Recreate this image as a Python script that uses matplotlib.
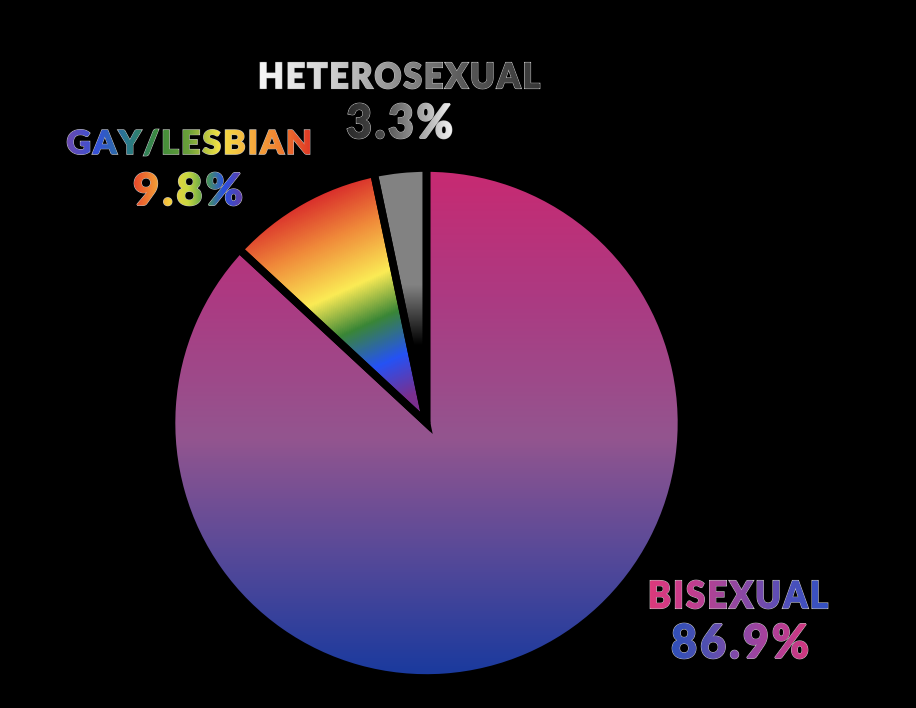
import numpy as np
import matplotlib
matplotlib.use("Agg")
import matplotlib.pyplot as plt
import matplotlib.transforms as mtransforms
from matplotlib.colors import LinearSegmentedColormap
from matplotlib.textpath import TextPath, text_to_path
from matplotlib.patches import PathPatch
from matplotlib.path import Path
from matplotlib.font_manager import FontProperties

# Data
groups = ["HETEROSEXUAL", "GAY/LESBIAN", "BISEXUAL"]
shares = [3.3, 9.8, 86.9]
share_labels = ["3.3%", "9.8%", "86.9%"]

W, H = 916, 708

fig = plt.figure(figsize=(W / 100, H / 100), dpi=100, facecolor="black")
ax = fig.add_axes([0, 0, 1, 1])
ax.set_facecolor("black")

# Pie (wedges only used for their shapes and black borders)
cx, cy = 426.5, H - 423
wedges, _ = ax.pie(shares, center=(cx, cy), radius=255, startangle=90,
                   counterclock=True,
                   wedgeprops=dict(facecolor="none", edgecolor="black",
                                   linewidth=5.5))

# pixel grid, y measured from top like the picture
xs = np.arange(W) + 0.5
ys = np.arange(H) + 0.5
X, Y = np.meshgrid(xs, ys)


def fill_wedge(wedge, values, cmap):
    im = ax.imshow(values, cmap=cmap, vmin=0, vmax=1, origin="upper",
                   extent=(0, W, 0, H), aspect="auto", zorder=1,
                   interpolation="bilinear")
    im.set_clip_path(wedge)
    wedge.set_zorder(2)


# Heterosexual: grey fading to black
grey_cmap = LinearSegmentedColormap.from_list("grey", ["#000000", "#828282"])
grey_val = np.clip((345 - Y) / 60, 0, 1)
fill_wedge(wedges[0], grey_val, grey_cmap)

# Gay/Lesbian: rainbow stripes at a slant
rainbow_cmap = LinearSegmentedColormap.from_list("rainbow", [
    (0.00, "#d7262a"), (0.22, "#f08a3a"), (0.45, "#fbeb55"),
    (0.63, "#3a8636"), (0.82, "#2552f5"), (1.00, "#7a2f8e")])
proj = 0.412 * X + 0.911 * Y
rainbow_val = np.clip((proj - 305) / (530 - 305), 0, 1)
fill_wedge(wedges[1], rainbow_val, rainbow_cmap)

# Bisexual: pink -> mauve -> blue from top to bottom
bi_cmap = LinearSegmentedColormap.from_list("bi", [
    (0.00, "#c72a72"), (0.25, "#ac3a82"), (0.53, "#93558f"),
    (0.75, "#5a4a98"), (1.00, "#1a3a9e")])
bi_val = np.clip((Y - 172) / (674 - 172), 0, 1)
fill_wedge(wedges[2], bi_val, bi_cmap)

# Gradient labels
font = FontProperties(family=["Lato", "DejaVu Sans"], weight="black")
# small shifts to fatten the letters a little
shifts = [(0, 0), (0.5, 0), (-0.5, 0), (0, 0.5), (0, -0.5)]


def spaced_path(s, track=7):
    # text path with a bit of extra letter spacing
    parts = []
    for i, ch in enumerate(s):
        adv = 0
        if i > 0:
            adv = text_to_path.get_text_width_height_descent(
                s[:i], font, ismath=False)[0]
            adv = adv * 100 / font.get_size_in_points()
        parts.append(TextPath((adv + i * track, 0), ch, size=100, prop=font))
    return Path.make_compound_path(*parts)


def grad_text(s, box, colors):
    x0, y0, x1, y1 = box
    tp = spaced_path(s)
    bb = tp.get_extents()
    base = (mtransforms.Affine2D()
            .translate(-bb.x0, -bb.y0)
            .scale((x1 - x0 - 1.4) / bb.width, (y1 - y0 - 1.4) / bb.height)
            .translate(x0 + 0.7, H - y1 + 0.7))
    path = base.transform_path(tp)
    # grey rim underneath
    ax.add_patch(PathPatch(path, facecolor="#c4c4c4", edgecolor="#c4c4c4",
                           linewidth=1.5, zorder=4))
    cmap = LinearSegmentedColormap.from_list(s, colors)
    grad = np.linspace(0, 1, 256).reshape(1, -1)
    for dx, dy in shifts:
        p = mtransforms.Affine2D().translate(dx, dy).transform_path(path)
        clip = PathPatch(p, facecolor="none", edgecolor="none")
        ax.add_patch(clip)
        im = ax.imshow(grad, cmap=cmap, extent=(x0, x1, H - y1, H - y0),
                       aspect="auto", zorder=5, interpolation="bilinear")
        im.set_clip_path(clip)


grad_text(groups[0], (260, 62, 540, 89),
          ["#f7f7f7", "#d2d2d2", "#8c8c8c", "#555555", "#383838"])
grad_text(share_labels[0], (347, 103, 452, 139),
          ["#2a2a2a", "#4a4a4a", "#9a9a9a", "#f2f2f2"])

grad_text(groups[1], (67, 129, 310, 156),
          ["#6a4ab0", "#3352d8", "#2a7a8a", "#3d8a3a", "#6aa03a",
           "#f2e244", "#f6b040", "#f08030", "#e03a26"])
grad_text(share_labels[1], (134, 172, 242, 206),
          ["#e8482a", "#f08a34", "#f5d040", "#c8d840", "#4a9a4a",
           "#2850e0", "#6040a8"])

grad_text(groups[2], (650, 580, 828, 609),
          ["#dc3a7c", "#c83c8c", "#a4469a", "#7a4aaa", "#4a50bc", "#3452c2"])
grad_text(share_labels[2], (672, 623, 808, 659),
          ["#2f4fb8", "#5050b0", "#8a4aa8", "#b03e98", "#d0387e"])

ax.set_xlim(0, W)
ax.set_ylim(0, H)
ax.set_aspect("auto")
ax.axis("off")

fig.savefig("out.png", dpi=100, facecolor="black")
